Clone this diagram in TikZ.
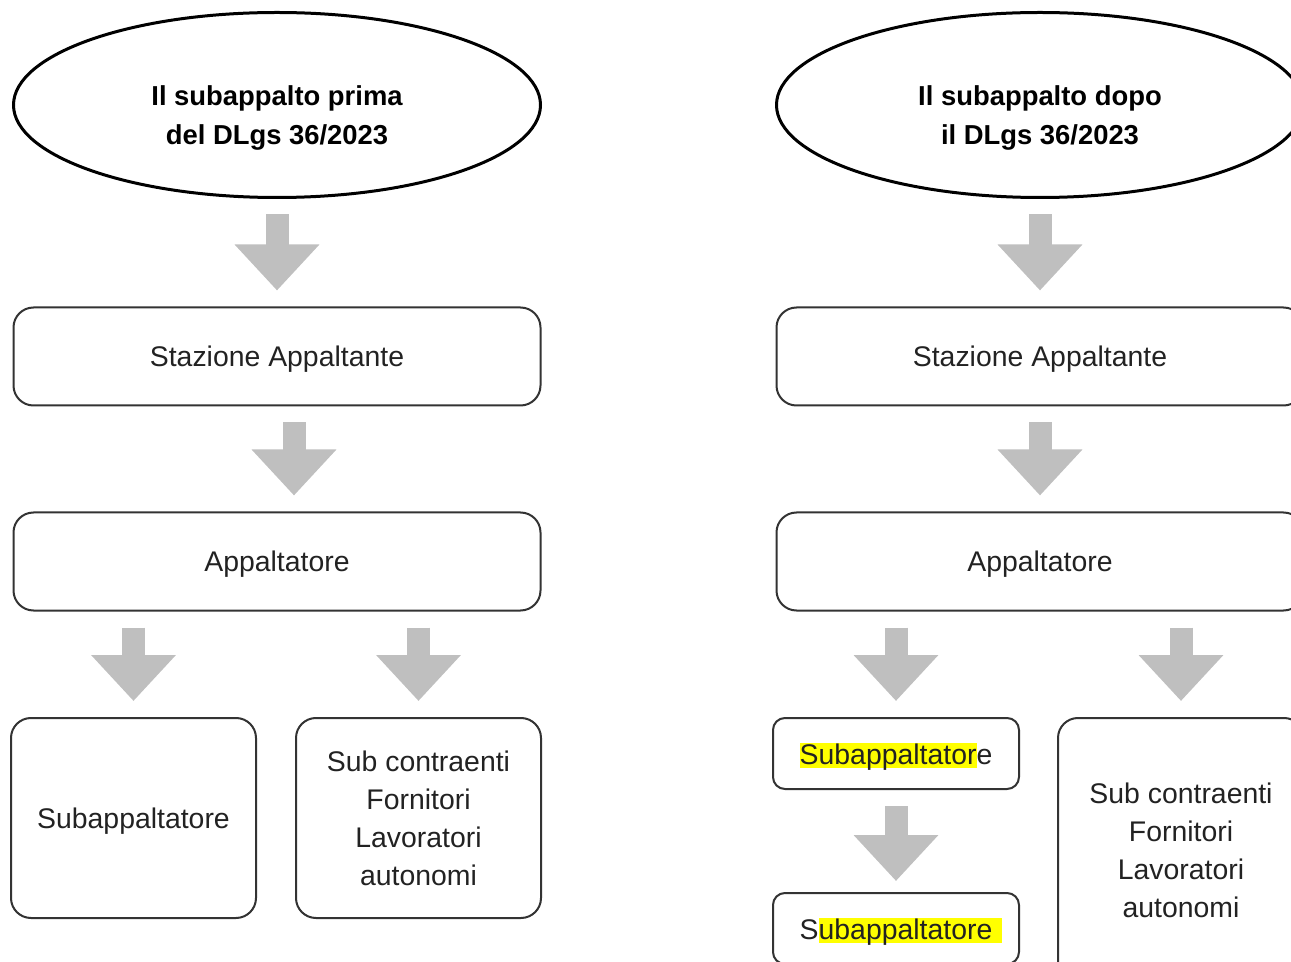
\documentclass[tikz,border=0pt]{standalone}
\usepackage{fontspec}
\setmainfont{Liberation Sans}
\usetikzlibrary{positioning, shapes.geometric, arrows.meta}
\definecolor{sbline}{HTML}{333333}
\definecolor{sbtext}{HTML}{222222}
\definecolor{sbarrow}{HTML}{BFBFBF}
\definecolor{sbmark}{HTML}{FFFF00}
\newcommand{\hilite}[2][0pt]{\begingroup\setbox0=\hbox{#2}\rlap{\textcolor{sbmark}{\rule[-1.5pt]{\dimexpr\wd0+#1\relax}{12.5pt}}}\box0\endgroup}

\begin{document}
\begin{tikzpicture}[x=0.5pt, y=0.5pt,
          ttl/.style={ellipse, draw=black, line width=1.5pt, minimum width=263.5pt, minimum height=92.5pt, inner sep=0pt, outer sep=0pt, font=\bfseries\fontsize{13.7}{19.5}\selectfont, align=center, text height=39.5pt, text depth=0pt},
          b/.style={draw=sbline, line width=1pt, rounded corners=10pt, text=sbtext, font=\fontsize{14.2}{19}\selectfont, minimum width=263.5pt, minimum height=49pt, inner sep=0pt, outer sep=0pt, align=center, text depth=0pt},
          flow/.style={line width=11.5pt, draw=sbarrow, -{Triangle[width=41pt,length=23pt]}, shorten <=8.5pt, shorten >=8.5pt}]
        \clip (0,0) rectangle (1291,-962);
        % prima
        \node[ttl] (elL) at (277,-105) {Il subappalto prima\\del DLgs 36/2023};
        \node[b, below=55pt of elL] (saL) {Stazione Appaltante};
        \node[b, below=53.5pt of saL] (apL) {Appaltatore};
        \node[b, minimum width=122.5pt, minimum height=100pt] (subL) at (133.5,-818) {Subappaltatore};
        \node[b, minimum width=122.5pt, minimum height=100pt] (forL) at (418.5,-818) {Sub contraenti\\Fornitori\\Lavoratori\\autonomi};
        \draw[flow] (elL) -- (saL);
        \draw[flow] ([xshift=8.5pt]saL.south) -- ([xshift=8.5pt]apL.north);
        \draw[flow] (subL.north |- apL.south) -- (subL);
        \draw[flow] (forL.north |- apL.south) -- (forL);
        % dopo
        \node[ttl] (elR) at (1040,-105) {Il subappalto dopo\\il DLgs 36/2023};
        \node[b, below=55pt of elR] (saR) {Stazione Appaltante};
        \node[b, below=53.5pt of saR] (apR) {Appaltatore};
        \node[b, minimum width=123pt, minimum height=35.5pt, rounded corners=6pt] (subR) at (896,-753.5) {\hilite{Subappaltator}e};
        \node[b, minimum width=123pt, minimum height=35.5pt, rounded corners=6pt, below=52pt of subR] (subR2) {S\hilite[5pt]{ubappaltatore}};
        \node[b, minimum width=123pt, minimum height=132pt] (forR) at (1181,-850) {Sub contraenti\\Fornitori\\Lavoratori\\autonomi};
        \draw[flow] (elR) -- (saR);
        \draw[flow] (saR) -- (apR);
        \draw[flow] (subR.north |- apR.south) -- (subR);
        \draw[flow] (forR.north |- apR.south) -- (forR);
        \draw[flow, shorten >=6pt] (subR) -- (subR2);
      \end{tikzpicture}
\end{document}
